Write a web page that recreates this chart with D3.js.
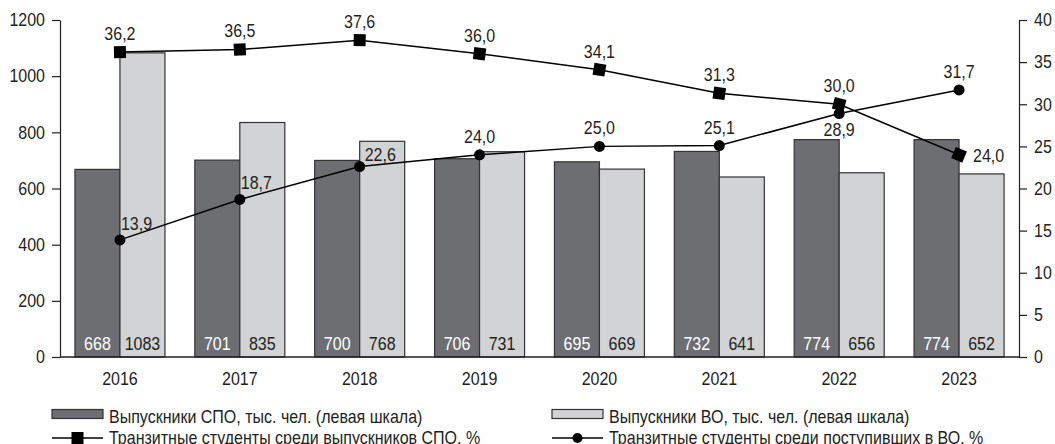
<!DOCTYPE html>
<html>
<head>
<meta charset="utf-8">
<script src="https://cdn.jsdelivr.net/npm/d3@7"></script>
<style>
  body { margin: 0; background: #fff; }
  svg text { font-family: "Liberation Sans", Arial, sans-serif; fill: #231f20; }
</style>
</head>
<body>
<svg id="chart" width="1055" height="444"></svg>
<script>
const WIDTH = 1055;
const HEIGHT = 444;
const MARGIN_LEFT = 60;
const MARGIN_RIGHT = 36;
const MARGIN_TOP = 20;
const Y_BOTTOM = 357;
const NARROW = 0.89; // squeeze text to look like a narrow face

// Data
const years = ['2016', '2017', '2018', '2019', '2020', '2021', '2022', '2023'];
const spoGrads = [668, 701, 700, 706, 695, 732, 774, 774];
const voGrads = [1083, 835, 768, 731, 669, 641, 656, 652];
const transitSpo = [36.2, 36.5, 37.6, 36.0, 34.1, 31.3, 30.0, 24.0];
const transitVo = [13.9, 18.7, 22.6, 24.0, 25.0, 25.1, 28.9, 31.7];
const leftTicks = [0, 200, 400, 600, 800, 1000, 1200];
const rightTicks = [0, 5, 10, 15, 20, 25, 30, 35, 40];
const legendLabels = [
	'Выпускники СПО, тыс. чел. (левая шкала)',
	'Выпускники ВО, тыс. чел. (левая шкала)',
	'Транзитные студенты среди выпускников СПО, %',
	'Транзитные студенты среди поступивших в ВО, %'
];
// where each line label sits relative to its point
const spoLabelPos = ['top', 'top', 'top', 'top', 'top', 'top', 'top', 'right'];
const voLabelPos = ['topright', 'topright', 'right', 'top', 'top', 'top', 'below', 'top'];

const DARK = '#6d6e71';
const LIGHT = '#d1d3d4';
const INK = '#231f20';

const fmt = v => v.toFixed(1).replace('.', ',');

// place a text at (x, y) squeezed horizontally
const place = (sel, fx, fy) => sel
	.attr('transform', (d, i) => `translate(${fx(d, i)},${fy(d, i)}) scale(${NARROW},1)`);

const svg = d3.select('#chart');

const x = d3.scaleBand()
	.domain(years)
	.range([MARGIN_LEFT, WIDTH - MARGIN_RIGHT])
	.padding(0);

const yLeft = d3.scaleLinear().domain([0, 1200]).range([Y_BOTTOM, MARGIN_TOP]);
const yRight = d3.scaleLinear().domain([0, 40]).range([Y_BOTTOM, MARGIN_TOP]);

const barW = 45;
const cx = d => x(d) + x.bandwidth() / 2;

// bars
const groups = svg.append('g').selectAll('g')
	.data(years)
	.enter()
	.append('g');

groups.append('rect')
	.attr('x', d => cx(d) - barW)
	.attr('y', (d, i) => yLeft(spoGrads[i]))
	.attr('width', barW)
	.attr('height', (d, i) => Y_BOTTOM - yLeft(spoGrads[i]))
	.attr('fill', DARK)
	.attr('stroke', '#333234')
	.attr('stroke-width', 1.2);

groups.append('rect')
	.attr('x', d => cx(d))
	.attr('y', (d, i) => yLeft(voGrads[i]))
	.attr('width', barW)
	.attr('height', (d, i) => Y_BOTTOM - yLeft(voGrads[i]))
	.attr('fill', LIGHT)
	.attr('stroke', '#333234')
	.attr('stroke-width', 1.2);

groups.append('text')
	.attr('text-anchor', 'middle')
	.attr('font-size', '18px')
	.style('fill', '#fff')
	.call(place, d => cx(d) - barW / 2, () => Y_BOTTOM - 7)
	.text((d, i) => spoGrads[i]);

groups.append('text')
	.attr('text-anchor', 'middle')
	.attr('font-size', '18px')
	.call(place, d => cx(d) + barW / 2, () => Y_BOTTOM - 7)
	.text((d, i) => voGrads[i]);

// axes
const leftAxis = svg.append('g')
	.attr('transform', `translate(${MARGIN_LEFT},0)`)
	.call(d3.axisLeft(yLeft).tickValues(leftTicks).tickFormat(d3.format('d'))
		.tickSize(8).tickPadding(7).tickSizeOuter(0));

const rightAxis = svg.append('g')
	.attr('transform', `translate(${WIDTH - MARGIN_RIGHT},0)`)
	.call(d3.axisRight(yRight).tickValues(rightTicks)
		.tickSize(8).tickPadding(7).tickSizeOuter(0));

[leftAxis, rightAxis].forEach(a => {
	a.select('.domain').attr('stroke', INK).attr('stroke-width', 1.2);
	a.selectAll('.tick line').attr('stroke', INK).attr('stroke-width', 1.2);
	a.selectAll('.tick text')
		.attr('font-size', '18px')
		.attr('font-family', null)
		.style('fill', INK)
		.each(function() {
			const t = d3.select(this);
			const tx = +t.attr('x');
			t.attr('x', 0).attr('transform', `translate(${tx},0) scale(${NARROW},1)`);
		});
});

svg.append('line')
	.attr('x1', MARGIN_LEFT)
	.attr('x2', WIDTH - MARGIN_RIGHT)
	.attr('y1', Y_BOTTOM)
	.attr('y2', Y_BOTTOM)
	.attr('stroke', INK)
	.attr('stroke-width', 1.5);

svg.append('g').selectAll('text')
	.data(years)
	.enter()
	.append('text')
	.attr('text-anchor', 'middle')
	.attr('font-size', '18px')
	.call(place, d => cx(d), () => Y_BOTTOM + 28)
	.text(d => d);

// lines
const drawLine = (values, marker, labelPos) => {
	const pts = values.map((v, i) => [cx(years[i]), yRight(v)]);
	const g = svg.append('g');

	g.append('path')
		.datum(pts)
		.attr('d', d3.line())
		.attr('fill', 'none')
		.attr('stroke', '#000')
		.attr('stroke-width', 1.5);

	if (marker === 'square') {
		// squares are turned along the line, like in the source
		g.selectAll('rect')
			.data(pts)
			.enter()
			.append('rect')
			.attr('x', -6)
			.attr('y', -6)
			.attr('width', 12)
			.attr('height', 12)
			.attr('fill', '#000')
			.attr('transform', (p, i) => {
				const a = pts[Math.max(i - 1, 0)];
				const b = pts[Math.min(i + 1, pts.length - 1)];
				const ang = Math.atan2(b[1] - a[1], b[0] - a[0]) * 180 / Math.PI;
				return `translate(${p[0]},${p[1]}) rotate(${ang})`;
			});
	} else {
		g.selectAll('circle')
			.data(pts)
			.enter()
			.append('circle')
			.attr('cx', p => p[0])
			.attr('cy', p => p[1])
			.attr('r', 5.5)
			.attr('fill', '#000');
	}

	const dx = (p, i) => {
		if (labelPos[i] === 'right') return p[0] + (marker === 'square' ? 14 : 5);
		if (labelPos[i] === 'topright') return p[0] + 1;
		return p[0];
	};
	const dy = (p, i) => {
		if (labelPos[i] === 'top') return p[1] - 12;
		if (labelPos[i] === 'topright') return p[1] - 10;
		if (labelPos[i] === 'below') return p[1] + 22;
		return p[1] + (marker === 'square' ? 7 : -6);
	};

	g.selectAll('text')
		.data(pts)
		.enter()
		.append('text')
		.attr('font-size', '18px')
		.attr('text-anchor', (p, i) => labelPos[i] === 'top' || labelPos[i] === 'below' ? 'middle' : 'start')
		.call(place, dx, dy)
		.text((p, i) => fmt(values[i]));
};

drawLine(transitSpo, 'square', spoLabelPos);
drawLine(transitVo, 'circle', voLabelPos);

// legend
const legendCols = [52, 552];
const legend = svg.append('g');

[DARK, LIGHT].forEach((c, i) => {
	legend.append('rect')
		.attr('x', legendCols[i])
		.attr('y', 409.5)
		.attr('width', 51)
		.attr('height', 9)
		.attr('fill', c)
		.attr('stroke', '#333234')
		.attr('stroke-width', 1.2);
	legend.append('text')
		.attr('font-size', '18px')
		.call(place, () => legendCols[i] + 57, () => 423)
		.text(legendLabels[i]);
});

['square', 'circle'].forEach((m, i) => {
	const lx = legendCols[i];
	legend.append('line')
		.attr('x1', lx)
		.attr('x2', lx + 51)
		.attr('y1', 438)
		.attr('y2', 438)
		.attr('stroke', '#000')
		.attr('stroke-width', 1.5);
	if (m === 'square') {
		legend.append('rect')
			.attr('x', lx + 25.5 - 6)
			.attr('y', 432)
			.attr('width', 12)
			.attr('height', 12)
			.attr('fill', '#000');
	} else {
		legend.append('circle')
			.attr('cx', lx + 25.5)
			.attr('cy', 438)
			.attr('r', 5)
			.attr('fill', '#000');
	}
	legend.append('text')
		.attr('font-size', '18px')
		.call(place, () => lx + 57, () => 444)
		.text(legendLabels[i + 2]);
});
</script>
</body>
</html>
